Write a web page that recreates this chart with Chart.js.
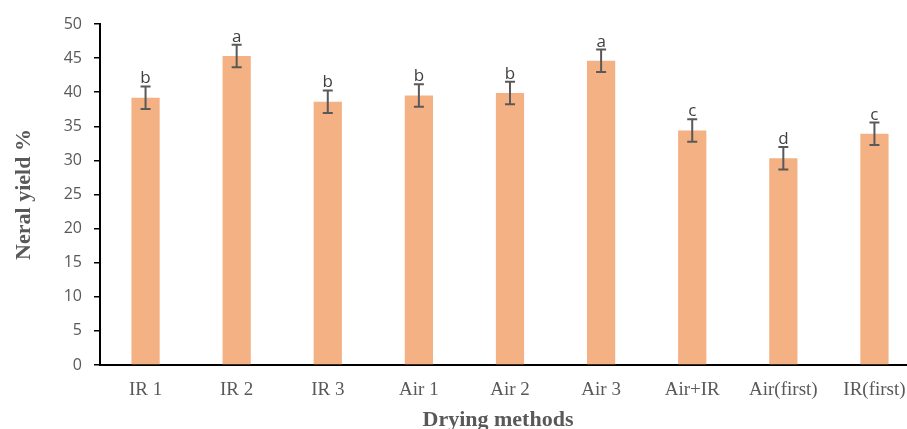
<!DOCTYPE html>
<html>
<head>
<meta charset="utf-8">
<script src="https://cdn.jsdelivr.net/npm/chart.js@4.4.1/dist/chart.umd.min.js"></script>
<style>
  html, body { margin: 0; padding: 0; background: #fff; overflow: hidden; }
  #wrap { width: 907px; height: 429px; overflow: hidden; }
  canvas { display: block; }
</style>
</head>
<body>
<div id="wrap"><canvas id="c" width="920" height="429"></canvas></div>
<script>
// Drying methods and their neral yield (%), with standard error and significance groups
const methods = ['IR 1', 'IR 2', 'IR 3', 'Air 1', 'Air 2', 'Air 3', 'Air+IR', 'Air(first)', 'IR(first)'];
const neralYield = [39.2, 45.3, 38.6, 39.5, 39.9, 44.6, 34.4, 30.3, 33.9];
const yieldError = [1.65, 1.65, 1.65, 1.65, 1.65, 1.65, 1.65, 1.65, 1.65];
const groupLetters = ['b', 'a', 'b', 'b', 'b', 'a', 'c', 'd', 'c'];
const yTicks = [0, 5, 10, 15, 20, 25, 30, 35, 40, 45, 50];

const xTitle = 'Drying methods';
const yTitle = 'Neral yield %';

// Error bars with group letters above each bar, plus the x-axis title
const errorBarPlugin = {
  id: 'errorBars',
  afterDatasetsDraw(chart) {
    const ctx = chart.ctx;
    const xs = chart.scales.x;
    const ys = chart.scales.y;
    ctx.save();
    ctx.strokeStyle = '#595959';
    ctx.lineWidth = 2;
    neralYield.forEach((v, i) => {
      const x = xs.getPixelForValue(i);
      const yTop = ys.getPixelForValue(v + yieldError[i]);
      const yBot = ys.getPixelForValue(v - yieldError[i]);
      const cap = 5;
      ctx.beginPath();
      ctx.moveTo(x, yTop); ctx.lineTo(x, yBot);
      ctx.moveTo(x - cap, yTop); ctx.lineTo(x + cap, yTop);
      ctx.moveTo(x - cap, yBot); ctx.lineTo(x + cap, yBot);
      ctx.stroke();
      ctx.fillStyle = '#404040';
      ctx.font = '17px "Open Sans"';
      ctx.textAlign = 'center';
      ctx.textBaseline = 'alphabetic';
      ctx.fillText(groupLetters[i], x, yTop - 3);
    });
    ctx.restore();
  },
  afterDraw(chart) {
    const ctx = chart.ctx;
    ctx.save();
    ctx.fillStyle = '#595959';
    ctx.font = 'bold 22px "Liberation Serif"';
    ctx.textAlign = 'center';
    ctx.textBaseline = 'alphabetic';
    ctx.fillText(xTitle, 498, 426);
    ctx.restore();
  }
};

new Chart(document.getElementById('c'), {
  type: 'bar',
  data: {
    labels: methods,
    datasets: [{
      data: neralYield,
      backgroundColor: '#F4B183',
      borderWidth: 0,
      categoryPercentage: 1.0,
      barPercentage: 0.31
    }]
  },
  options: {
    responsive: false,
    animation: false,
    devicePixelRatio: 1,
    layout: { padding: { top: 24, left: 0, right: 0, bottom: 0 } },
    plugins: {
      legend: { display: false },
      tooltip: { enabled: false }
    },
    scales: {
      x: {
        grid: { display: false, drawTicks: false },
        border: { display: true, color: '#000', width: 2 },
        ticks: {
          color: '#595959',
          font: { family: '"Liberation Serif"', size: 19 },
          padding: 14,
          maxRotation: 0,
          autoSkip: false
        },
        afterFit(scale) { scale.height = 64; }
      },
      y: {
        min: 0,
        max: 50,
        afterBuildTicks(scale) { scale.ticks = yTicks.map(v => ({ value: v })); },
        grid: { drawOnChartArea: false, drawTicks: true, tickLength: 6, color: '#000', lineWidth: 1.5 },
        border: { display: true, color: '#000', width: 2 },
        ticks: {
          color: '#595959',
          font: { family: '"Open Sans"', size: 16 },
          padding: 12
        },
        title: {
          display: true,
          text: yTitle,
          color: '#595959',
          font: { family: '"Liberation Serif"', size: 22, weight: 'bold' },
          padding: { top: 11, bottom: 0 }
        },
        afterFit(scale) { scale.width = 100; }
      }
    }
  },
  plugins: [errorBarPlugin]
});
</script>
</body>
</html>
